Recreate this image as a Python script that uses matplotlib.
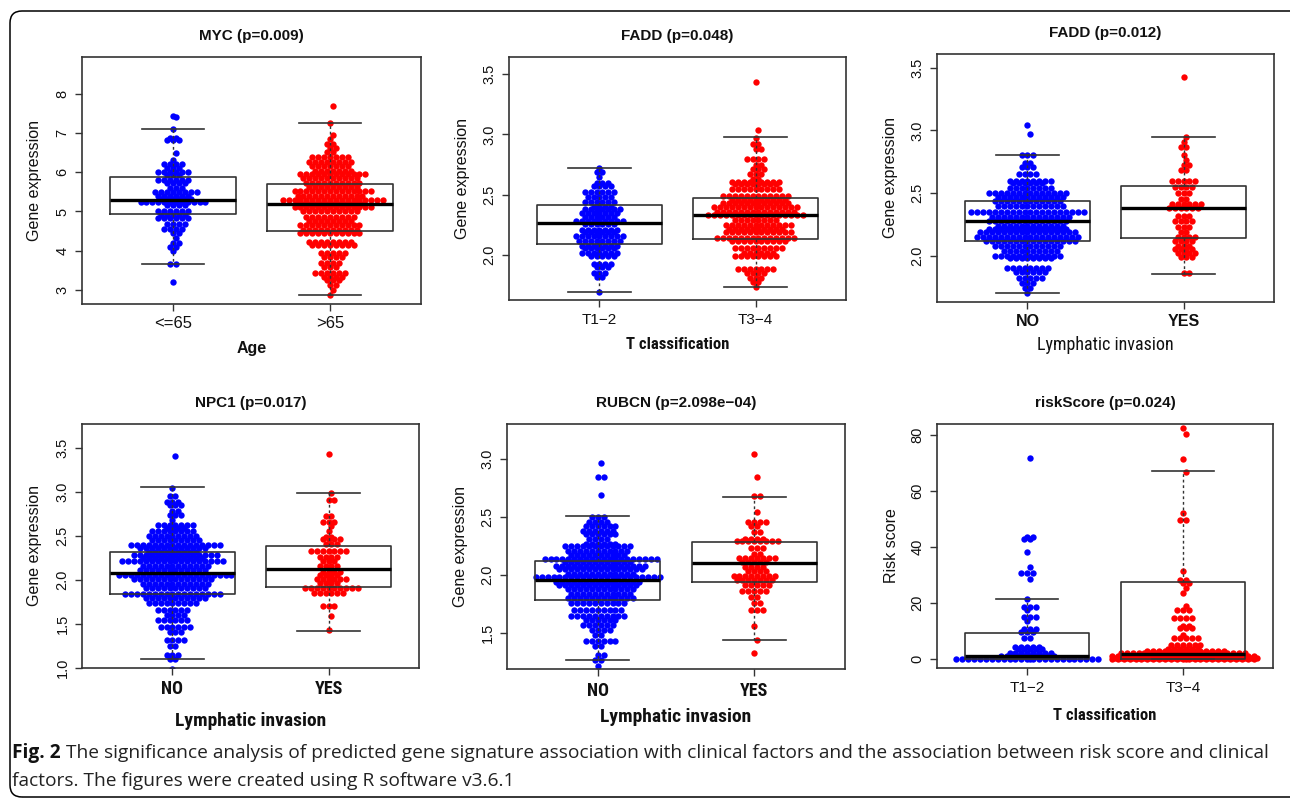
import numpy as np
import matplotlib
matplotlib.use("Agg")
import matplotlib.pyplot as plt
from matplotlib import font_manager
from matplotlib.patches import FancyBboxPatch
from matplotlib.transforms import IdentityTransform

# ---- data: swarm rows as (value, number of dots) ----
myc_young_val = [7.44, 7.40, 7.10, 6.87, 6.83, 6.50, 6.31, 6.21, 6.11, 6.00, 5.94, 5.80, 5.73, 5.60, 5.50,
                 5.40, 5.32, 5.23, 5.16, 5.00, 4.92, 4.83, 4.68, 4.55, 4.45, 4.32, 4.20, 4.10, 4.00, 3.66, 3.20]
myc_young_n = [1, 1, 1, 2, 3, 1, 1, 4, 3, 6, 3, 6, 4, 3, 8, 6, 6, 12, 4, 6, 5, 6, 4, 4, 2, 1, 2, 2, 1, 2, 1]
myc_old_val = [7.68, 7.25, 6.95, 6.84, 6.72, 6.62, 6.52, 6.40, 6.27, 6.16, 6.04, 5.96, 5.85, 5.72, 5.62, 5.51,
               5.40, 5.30, 5.19, 5.11, 5.00, 4.87, 4.76, 4.66, 4.53, 4.45, 4.23, 4.15, 3.94, 3.85, 3.68, 3.59,
               3.44, 3.34, 3.24, 3.13, 3.00, 2.87]
myc_old_n = [1, 1, 1, 1, 2, 2, 2, 7, 8, 7, 7, 12, 10, 10, 9, 14, 12, 18, 12, 14, 10, 9, 8, 11, 10, 11, 8, 8,
             5, 4, 4, 3, 6, 4, 3, 2, 1, 1]

fadd_t12_val = [2.72, 2.69, 2.65, 2.60, 2.57, 2.52, 2.48, 2.44, 2.40, 2.38, 2.35, 2.32, 2.28, 2.26, 2.21, 2.19,
                2.16, 2.12, 2.08, 2.06, 2.02, 1.99, 1.93, 1.90, 1.85, 1.82, 1.70]
fadd_t12_n = [1, 2, 1, 3, 4, 6, 5, 6, 4, 7, 7, 6, 9, 6, 7, 6, 9, 8, 7, 6, 7, 5, 4, 3, 3, 2, 1]
fadd_t34_val = [3.43, 3.04, 2.97, 2.92, 2.88, 2.80, 2.75, 2.71, 2.67, 2.63, 2.61, 2.59, 2.55, 2.49, 2.46, 2.43,
                2.40, 2.36, 2.33, 2.29, 2.25, 2.22, 2.19, 2.14, 2.12, 2.06, 2.02, 1.99, 1.89, 1.85, 1.81, 1.78,
                1.74]
fadd_t34_n = [1, 1, 1, 2, 2, 4, 2, 3, 3, 2, 9, 8, 9, 12, 10, 12, 15, 14, 17, 8, 12, 10, 12, 14, 10, 9, 6, 8,
              7, 4, 3, 2, 1]

fadd_no_val = [3.04, 2.97, 2.80, 2.74, 2.71, 2.65, 2.60, 2.58, 2.54, 2.50, 2.47, 2.44, 2.40, 2.35, 2.31, 2.28,
               2.24, 2.21, 2.19, 2.15, 2.12, 2.08, 2.04, 2.00, 1.98, 1.90, 1.87, 1.82, 1.78, 1.74, 1.70]
fadd_no_n = [1, 1, 3, 2, 3, 4, 8, 6, 8, 14, 12, 12, 12, 20, 14, 14, 12, 14, 17, 18, 16, 12, 10, 12, 8, 8, 6,
             5, 3, 2, 1]
fadd_yes_val = [3.43, 2.95, 2.91, 2.87, 2.80, 2.76, 2.72, 2.68, 2.60, 2.55, 2.50, 2.45, 2.41, 2.38, 2.32, 2.28,
                2.23, 2.19, 2.15, 2.12, 2.08, 2.05, 2.02, 1.99, 1.86]
fadd_yes_n = [1, 1, 1, 2, 1, 1, 2, 2, 5, 4, 3, 2, 6, 6, 3, 4, 3, 2, 4, 4, 3, 4, 4, 3, 2]

npc1_no_val = [3.41, 3.04, 2.95, 2.89, 2.85, 2.78, 2.74, 2.68, 2.62, 2.59, 2.55, 2.50, 2.45, 2.40, 2.36, 2.32,
               2.28, 2.25, 2.21, 2.16, 2.11, 2.06, 2.01, 1.95, 1.91, 1.84, 1.79, 1.74, 1.66, 1.60, 1.55, 1.47,
               1.41, 1.32, 1.25, 1.15, 1.10, 0.99]
npc1_no_n = [1, 1, 2, 3, 3, 2, 3, 1, 7, 4, 8, 9, 9, 16, 12, 9, 15, 11, 18, 12, 12, 20, 14, 12, 11, 17, 11, 9,
             6, 4, 6, 6, 3, 4, 2, 3, 2, 1]
npc1_yes_val = [3.43, 2.99, 2.91, 2.72, 2.66, 2.61, 2.55, 2.49, 2.46, 2.41, 2.33, 2.26, 2.21, 2.16, 2.09, 2.06,
                2.01, 1.97, 1.91, 1.85, 1.70, 1.59, 1.43]
npc1_yes_n = [1, 1, 2, 2, 3, 1, 1, 2, 4, 3, 7, 4, 3, 4, 4, 4, 6, 4, 10, 6, 3, 1, 1]

rubcn_no_val = [2.96, 2.84, 2.69, 2.50, 2.46, 2.42, 2.38, 2.35, 2.31, 2.27, 2.25, 2.21, 2.17, 2.14, 2.11, 2.08,
                2.05, 2.01, 1.98, 1.94, 1.91, 1.88, 1.84, 1.80, 1.76, 1.70, 1.65, 1.61, 1.57, 1.53, 1.48, 1.43,
                1.39, 1.31, 1.27, 1.22]
rubcn_no_n = [1, 2, 1, 3, 4, 6, 6, 6, 4, 6, 12, 11, 10, 20, 12, 16, 15, 12, 22, 15, 14, 12, 11, 12, 10, 9, 10,
              6, 6, 4, 2, 6, 2, 2, 2, 1]
rubcn_yes_val = [3.04, 2.84, 2.68, 2.54, 2.46, 2.42, 2.37, 2.31, 2.29, 2.23, 2.18, 2.15, 2.11, 2.07, 2.03, 1.99,
                 1.96, 1.91, 1.86, 1.81, 1.76, 1.70, 1.56, 1.44, 1.33]
rubcn_yes_n = [1, 1, 2, 1, 4, 2, 2, 4, 8, 3, 2, 7, 5, 4, 4, 8, 7, 5, 5, 2, 2, 3, 1, 1, 1]

risk_t12_val = [71.7, 43.7, 42.7, 38.3, 32.7, 30.6, 28.5, 21.3, 18.7, 17.5, 14.9, 13.6, 10.6, 9.8, 7.4, 4.4,
                3.5, 2.0, 1.1, 0.0]
risk_t12_n = [1, 2, 2, 1, 1, 3, 1, 1, 3, 1, 3, 1, 3, 3, 2, 5, 5, 8, 10, 26]
risk_t34_val = [82.4, 80.4, 71.4, 66.9, 52.3, 49.6, 31.5, 28.2, 27.0, 25.2, 23.5, 18.9, 17.5, 14.8, 11.8, 11.0,
                8.6, 7.4, 5.0, 3.7, 3.0, 2.0, 1.1, 0.4, 0.0]
risk_t34_n = [1, 1, 1, 1, 1, 2, 1, 2, 2, 1, 1, 1, 3, 4, 2, 3, 1, 5, 6, 6, 14, 22, 26, 26, 26]

# box statistics: whisker low, Q1, median, Q3, whisker high
myc_box = [[3.66, 4.93, 5.30, 5.87, 7.10], [2.86, 4.49, 5.19, 5.70, 7.25]]
fadd_t_box = [[1.70, 2.09, 2.265, 2.415, 2.72], [1.74, 2.135, 2.33, 2.475, 2.975]]
fadd_l_box = [[1.70, 2.12, 2.28, 2.44, 2.80], [1.85, 2.14, 2.38, 2.556, 2.944]]
npc1_box = [[1.10, 1.84, 2.08, 2.32, 3.05], [1.425, 1.92, 2.125, 2.39, 2.985]]
rubcn_box = [[1.27, 1.78, 1.96, 2.12, 2.51], [1.44, 1.94, 2.105, 2.285, 2.675]]
risk_box = [[0.0, 0.05, 1.1, 9.4, 21.3], [0.0, 0.1, 1.8, 27.6, 67.1]]

# ---- fonts ----
have = {f.name for f in font_manager.fontManager.ttflist}
SANS = "Liberation Sans"
NARROW = next((f for f in ["Liberation Sans Narrow", "DejaVu Sans Condensed", "Roboto Condensed"]
               if f in have), SANS)
plt.rcParams["font.family"] = [SANS, "DejaVu Sans"]

W, H = 1290, 799
fig = plt.figure(figsize=(W / 100, H / 100), dpi=100)
fig.patch.set_facecolor("white")

BLUE, RED, EDGE = "#0000ff", "#ff0000", "#333333"
DOT = 5.9  # dot spacing in pixels


def ftext(x, y, s, **kw):
    return fig.text(x / W, 1 - y / H, s, ha="center", va="center", **kw)


def rows_layout(vals, counts, maxn):
    xs, ys = [], []
    order = np.argsort(vals)
    for j, i in enumerate(order):
        left = counts[i]
        chunk = 0
        while left > 0:
            m = min(left, maxn)
            phase = 0.5 * ((j + chunk) % 2)
            slots = []
            k = 0
            while len(slots) < m:
                for s in ([phase + k, phase - k - 1] if phase else ([0] if k == 0 else [k, -k])):
                    if len(slots) < m:
                        slots.append(s)
                k += 1
            xs += slots
            ys += [vals[i]] * m
            left -= m
            chunk += 1
    return np.array(xs, float), np.array(ys, float)


panels = [
    dict(box=(82, 57, 421, 304), ylim=(2.64, 8.94), yticks=[3, 4, 5, 6, 7, 8], fmt="{:.0f}",
         groups=[(myc_young_val, myc_young_n), (myc_old_val, myc_old_n)], stats=myc_box,
         title="MYC (p=0.009)", xt=["<=65", ">65"], xt_font=(SANS, "normal", 12),
         xlabel="Age", xl_font=(SANS, "bold", 11.5), xl_y=348, ylabel="Gene expression", yl_x=35),
    dict(box=(509, 57, 846, 300), ylim=(1.63, 3.64), yticks=[2.0, 2.5, 3.0, 3.5], fmt="{:.1f}",
         groups=[(fadd_t12_val, fadd_t12_n), (fadd_t34_val, fadd_t34_n)], stats=fadd_t_box,
         title="FADD (p=0.048)", xt=["T1\u22122", "T3\u22124"], xt_font=(SANS, "normal", 11),
         xlabel="T classification", xl_font=(NARROW, "bold", 12), xl_y=345, ylabel="Gene expression", yl_x=463),
    dict(box=(937, 54, 1274, 302), ylim=(1.63, 3.61), yticks=[2.0, 2.5, 3.0, 3.5], fmt="{:.1f}",
         groups=[(fadd_no_val, fadd_no_n), (fadd_yes_val, fadd_yes_n)], stats=fadd_l_box,
         title="FADD (p=0.012)", xt=["NO", "YES"], xt_font=(SANS, "bold", 11.5),
         xlabel="Lymphatic invasion", xl_font=(NARROW, "normal", 13), xl_y=345, ylabel="Gene expression", yl_x=890),
    dict(box=(82, 424, 419, 668), ylim=(1.0, 3.77), yticks=[1.0, 1.5, 2.0, 2.5, 3.0, 3.5], fmt="{:.1f}",
         groups=[(npc1_no_val, npc1_no_n), (npc1_yes_val, npc1_yes_n)], stats=npc1_box,
         title="NPC1 (p=0.017)", xt=["NO", "YES"], xt_font=(NARROW, "bold", 13),
         xlabel="Lymphatic invasion", xl_font=(NARROW, "bold", 14), xl_y=721, ylabel="Gene expression", yl_x=35),
    dict(box=(507, 424, 845, 669), ylim=(1.19, 3.30), yticks=[1.5, 2.0, 2.5, 3.0], fmt="{:.1f}",
         groups=[(rubcn_no_val, rubcn_no_n), (rubcn_yes_val, rubcn_yes_n)], stats=rubcn_box,
         title="RUBCN (p=2.098e\u221204)", xt=["NO", "YES"], xt_font=(NARROW, "bold", 13),
         xlabel="Lymphatic invasion", xl_font=(NARROW, "bold", 14), xl_y=717, ylabel="Gene expression", yl_x=460),
    dict(box=(937, 424, 1273, 668), ylim=(-3.2, 83.9), yticks=[0, 20, 40, 60, 80], fmt="{:.0f}",
         groups=[(risk_t12_val, risk_t12_n), (risk_t34_val, risk_t34_n)], stats=risk_box,
         title="riskScore (p=0.024)", xt=["T1\u22122", "T3\u22124"], xt_font=(SANS, "normal", 11),
         xlabel="T classification", xl_font=(NARROW, "bold", 12), xl_y=715, ylabel="Risk score", yl_x=891),
]

for p in panels:
    l, t, r, b = p["box"]
    ax = fig.add_axes([l / W, 1 - b / H, (r - l) / W, (b - t) / H])
    ax.set_xlim(0.42, 2.58)
    ax.set_ylim(*p["ylim"])
    per_px = 2.16 / (r - l)
    for gi, ((vals, cnts), col) in enumerate(zip(p["groups"], [BLUE, RED])):
        xs, ys = rows_layout(vals, cnts, 25)
        ax.scatter(gi + 1 + xs * DOT * per_px, ys, s=21, color=col, linewidths=0, zorder=2)
    stats = [dict(whislo=s[0], q1=s[1], med=s[2], q3=s[3], whishi=s[4]) for s in p["stats"]]
    ax.bxp(stats, positions=[1, 2], widths=0.8, showfliers=False, manage_ticks=False, zorder=3,
           boxprops=dict(color=EDGE, lw=1.2), whiskerprops=dict(color=EDGE, lw=1.0, linestyle=(0, (2, 2))),
           capprops=dict(color=EDGE, lw=1.2), medianprops=dict(color="black", lw=2.4))
    for sp in ax.spines.values():
        sp.set_color(EDGE)
        sp.set_linewidth(1.2)
    ax.tick_params(colors=EDGE, length=5, width=1.0, pad=4, labelcolor="#111111")
    ax.set_xticks([1, 2])
    fam, wt, sz = p["xt_font"]
    ax.set_xticklabels(p["xt"], family=[fam, "DejaVu Sans"], weight=wt, fontsize=sz)
    ax.set_yticks(p["yticks"])
    ax.set_yticklabels([p["fmt"].format(v) for v in p["yticks"]], rotation=90, va="center", fontsize=10.5)
    ftext((l + r) / 2, t - 21, p["title"], fontsize=11, weight="bold", color="#111111")
    fam, wt, sz = p["xl_font"]
    ftext((l + r) / 2, p["xl_y"], p["xlabel"], family=[fam, "DejaVu Sans"], weight=wt, fontsize=sz,
          color="#111111")
    ftext(p["yl_x"], (t + b) / 2, p["ylabel"], rotation=90, fontsize=11.5, color="#111111")

# figure frame
frame = FancyBboxPatch((10, 2), 1300, 786, boxstyle="round,pad=0,rounding_size=12",
                       transform=IdentityTransform(), fill=False, ec="black", lw=1.1)
fig.patches.append(frame)

# caption
cap_font = "Open Sans" if "Open Sans" in have else SANS
renderer = fig.canvas.get_renderer()
line1 = "The significance analysis of predicted gene signature association with clinical factors and the association between risk score and clinical"
line2 = "factors. The figures were created using R software v3.6.1"
size = 12.0
head = fig.text(12 / W, 1 - 753 / H, "Fig. 2", family=cap_font, weight="bold", fontsize=size, va="center",
                color="#111111")
rest = fig.text(0, 1 - 753 / H, " " + line1, family=cap_font, fontsize=size, va="center", color="#222222")
w_head = head.get_window_extent(renderer).width
w_rest = rest.get_window_extent(renderer).width
size *= 1250 / (w_head + w_rest)
head.set_fontsize(size)
rest.set_fontsize(size)
w_head = head.get_window_extent(renderer).width
rest.set_x((12 + w_head) / W)
fig.text(12 / W, 1 - 781 / H, line2, family=cap_font, fontsize=size, va="center", color="#222222")

fig.savefig("out.png", dpi=100)
